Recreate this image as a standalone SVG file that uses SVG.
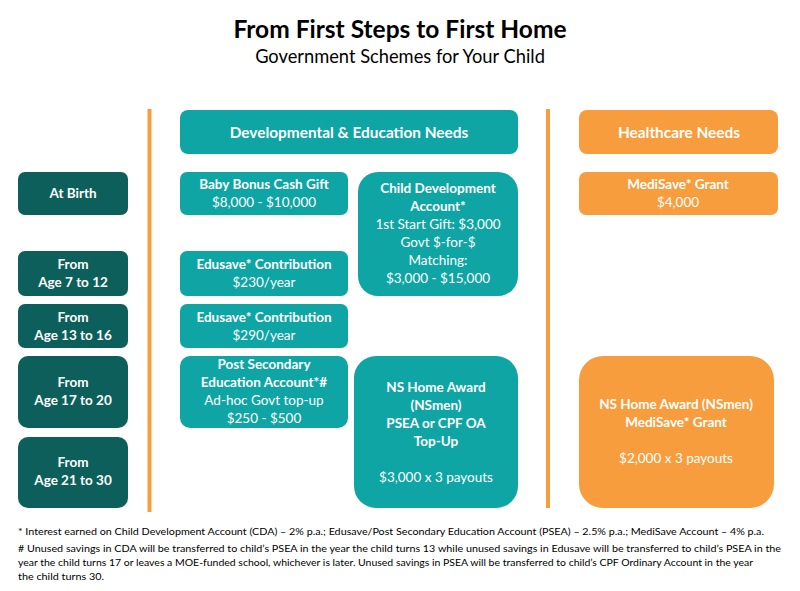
<svg xmlns="http://www.w3.org/2000/svg" width="800" height="591" viewBox="0 0 800 591">
<style>
text{font-family:Lato,"Open Sans","Liberation Sans",sans-serif;text-anchor:middle;fill:#fff;font-size:13.5px}
.b{font-weight:bold}
.dark{fill:#0D5F5B}
.teal{fill:#0FA5A5}
.orange{fill:#F79D3E}
.title{fill:#000;font-size:24.5px;font-weight:bold}
.sub{fill:#000;font-size:18.3px}
.fn{fill:#000;font-size:10px;text-anchor:start}
.hdr{font-size:15.4px;font-weight:bold}
</style>
<rect width="800" height="591" fill="#fff"/>
<text class="title" x="400" y="38">From First Steps to First Home</text>
<text class="sub" x="400" y="63">Government Schemes for Your Child</text>

<g id="dividers">
<rect x="147.5" y="109" width="4" height="403" class="orange"/>
<rect x="546" y="109" width="4" height="399" class="orange"/>
</g>

<g id="hdr-dev"><rect x="180" y="110" width="338" height="44" rx="8" class="teal"/><text class="hdr" x="349" y="138">Developmental &amp; Education Needs</text></g>
<g id="hdr-health"><rect x="579" y="110" width="199" height="44" rx="8" class="orange"/><text class="hdr" x="679" y="138">Healthcare Needs</text></g>

<g id="age-birth"><rect x="18" y="172" width="110" height="43" rx="7" class="dark"/><text class="b" x="73" y="198">At Birth</text></g>
<g id="age-7-12"><rect x="18" y="251" width="110" height="45" rx="7" class="dark"/><text class="b" x="73" y="269">From</text><text class="b" x="73" y="287">Age 7 to 12</text></g>
<g id="age-13-16"><rect x="18" y="304" width="110" height="44" rx="7" class="dark"/><text class="b" x="73" y="322">From</text><text class="b" x="73" y="340">Age 13 to 16</text></g>
<g id="age-17-20"><rect x="18" y="356" width="110" height="72" rx="10" class="dark"/><text class="b" x="73" y="387">From</text><text class="b" x="73" y="405">Age 17 to 20</text></g>
<g id="age-21-30"><rect x="18" y="437" width="110" height="71" rx="10" class="dark"/><text class="b" x="73" y="467">From</text><text class="b" x="73" y="485">Age 21 to 30</text></g>

<g id="baby-bonus"><rect x="180" y="172" width="168" height="43" rx="7" class="teal"/><text class="b" x="264" y="189">Baby Bonus Cash Gift</text><text x="264" y="207">$8,000 - $10,000</text></g>
<g id="edusave-230"><rect x="180" y="251" width="168" height="45" rx="7" class="teal"/><text class="b" x="264" y="269">Edusave* Contribution</text><text x="264" y="287">$230/year</text></g>
<g id="edusave-290"><rect x="180" y="304" width="168" height="44" rx="7" class="teal"/><text class="b" x="264" y="322">Edusave* Contribution</text><text x="264" y="340">$290/year</text></g>
<g id="psea"><rect x="180" y="356" width="168" height="72" rx="10" class="teal"/><text class="b" x="264" y="369">Post Secondary</text><text class="b" x="264" y="387">Education Account*#</text><text x="264" y="405">Ad-hoc Govt top-up</text><text x="264" y="423">$250 - $500</text></g>

<g id="cda"><rect x="358" y="172" width="160" height="124" rx="20" class="teal"/><text class="b" x="438" y="193">Child Development</text><text class="b" x="438" y="211">Account*</text><text x="438" y="229">1st Start Gift: $3,000</text><text x="438" y="247">Govt $-for-$</text><text x="438" y="265">Matching:</text><text x="438" y="283">$3,000 - $15,000</text></g>
<g id="ns-teal"><rect x="354" y="356" width="164" height="152" rx="22" class="teal"/><text class="b" x="436" y="392">NS Home Award</text><text class="b" x="436" y="410">(NSmen)</text><text class="b" x="436" y="428">PSEA or CPF OA</text><text class="b" x="436" y="446">Top-Up</text><text x="436" y="482">$3,000 x 3 payouts</text></g>

<g id="medisave"><rect x="579" y="172" width="199" height="43" rx="7" class="orange"/><text class="b" x="678" y="189">MediSave* Grant</text><text x="678" y="207">$4,000</text></g>
<g id="ns-orange"><rect x="579" y="356" width="195" height="152" rx="24" class="orange"/><text class="b" x="676" y="409">NS Home Award (NSmen)</text><text class="b" x="676" y="427">MediSave* Grant</text><text x="676" y="463">$2,000 x 3 payouts</text></g>

<g id="footnotes">
<text class="fn" x="18" y="535" textLength="746" lengthAdjust="spacingAndGlyphs">* Interest earned on Child Development  Account (CDA) – 2% p.a.; Edusave/Post Secondary Education Account (PSEA) – 2.5% p.a.; MediSave Account – 4% p.a.</text>
<text class="fn" x="18" y="552" textLength="763" lengthAdjust="spacingAndGlyphs"># Unused savings in CDA will be transferred to child’s PSEA in the year the child turns 13 while unused savings in Edusave will be transferred to child’s PSEA in the</text>
<text class="fn" x="18" y="566" textLength="735" lengthAdjust="spacingAndGlyphs">year the child turns 17 or leaves a MOE-funded school, whichever  is later. Unused savings in PSEA will be transferred to child’s CPF Ordinary Account in the year</text>
<text class="fn" x="18" y="580" textLength="86" lengthAdjust="spacingAndGlyphs">the child turns 30.</text>
</g>
</svg>
